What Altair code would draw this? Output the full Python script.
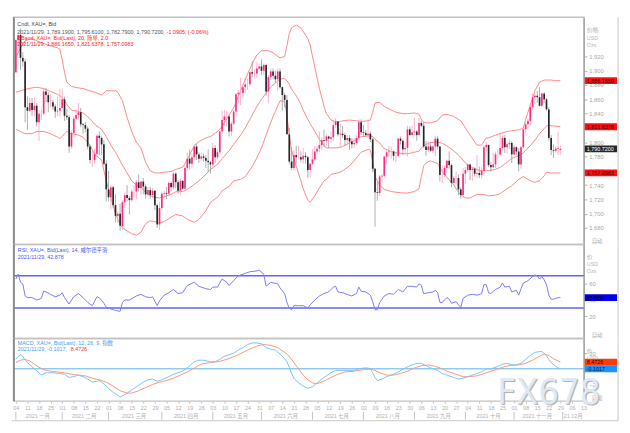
import json
import altair as alt
import pandas as pd

# ---------------- daily candles XAU= (trading-day index 0 = 2021-01-04 ... 235 = 2021-11-29)
OPEN = [
    1898,1943,1950,1918,1913,1849,1844,1855,1845,1851,1828,1840,1840,1871,1866,1856,1856,1850,1843,1844,
    1848,1860,1837,1835,1794,1813,1833,1838,1842,1825,1824,1819,1794,1775,1775,1784,1809,1806,1797,1770,
    1734,1723,1737,1712,1697,1700,1683,1716,1726,1722,1719,1731,1731,1744,1736,1745,1738,1727,1733,1726,1732,1712,1685,
    1708,1728,1729,1728,1743,1737,1756,1744,1732,1746,1735,1764,1777,1770,1779,1794,1783,1777,1780,1778,1774,1772,
    1769,1792,1779,1786,1815,1831,1836,1836,1815,1826,1843,1867,1869,1869,1877,1881,1881,1898,1896,1896,1903,
    1906,1900,1908,1871,1891,1899,1893,1888,1899,1877,1866,1859,1811,1773,1764,1782,1779,1779,1776,1781,1779,1761,
    1770,1776,1787,1791,1796,1803,1802,1808,1805,1807,1824,1829,1811,1812,1810,1803,1806,1801,1797,1799,1806,1828,
    1814,1813,1810,1812,1804,1763,1730,1729,1752,1753,1780,1786,1787,1787,1781,1781,1805,1802,1790,1792,1818,1810,
    1814,1815,1810,1827,1823,1794,1789,1794,1788,1794,1805,1794,1754,1754,1764,1774,1768,1743,1750,1750,1734,1726,
    1756,1761,1769,1761,1763,1756,1757,1754,1760,1793,1796,1768,1765,1769,1783,1783,1792,1806,1793,1797,1799,
    1783,1793,1787,1769,1793,1818,1825,1830,1849,1863,1865,1863,1851,1868,1860,1846,1806,1789,1788,1791,1789.19,
]
HIGH = [
    1944,1952,1959,1926,1917,1864,1862,1862,1863,1855,1845,1845,1875,1876,1870,1867,1859,1853,1864,1875,
    1875,1864,1846,1838,1816,1836,1845,1855,1848,1827,1828,1822,1797,1789,1791,1811,1815,1808,1803,1775,
    1760,1740,1739,1727,1703,1714,1719,1730,1740,1725,1734,1740,1747,1755,1746,1750,1741,1737,1738,1736,1733,1714,1716,
    1731,1732,1737,1745,1745,1759,1758,1747,1749,1747,1767,1785,1790,1784,1797,1798,1786,1785,1784,1782,1790,1774,
    1799,1796,1790,1816,1844,1845,1844,1838,1829,1845,1869,1873,1890,1880,1890,1889,1899,1913,1902,1912,1910,
    1916,1910,1910,1894,1903,1903,1900,1903,1903,1878,1869,1866,1820,1793,1789,1795,1795,1787,1792,1786,1781,1771,
    1790,1795,1794,1815,1807,1818,1812,1809,1815,1830,1834,1830,1826,1823,1813,1810,1810,1806,1806,1810,1832,1832,
    1824,1817,1832,1815,1806,1764,1745,1754,1755,1781,1788,1795,1794,1788,1786,1806,1808,1804,1800,1823,1822,1823,
    1834,1817,1834,1830,1828,1802,1801,1800,1796,1809,1809,1795,1768,1767,1776,1787,1770,1753,1759,1755,1737,1764,
    1765,1770,1770,1765,1765,1782,1766,1765,1796,1800,1797,1772,1785,1787,1790,1814,1810,1810,1801,1804,1801,
    1796,1794,1792,1795,1819,1829,1833,1853,1868,1869,1872,1877,1869,1870,1862,1849,1810,1797,1794,1815,1795.61,
]
LOW = [
    1897,1928,1901,1906,1828,1817,1842,1837,1836,1822,1802,1831,1838,1856,1842,1849,1845,1834,1836,1836,
    1847,1830,1831,1785,1791,1807,1831,1832,1821,1812,1814,1790,1770,1765,1770,1781,1782,1782,1767,1717,
    1717,1706,1708,1688,1687,1676,1678,1708,1717,1699,1717,1723,1720,1731,1727,1727,1721,1725,1721,1722,1705,1680,1677,
    1705,1725,1720,1725,1731,1734,1736,1728,1726,1733,1734,1760,1762,1763,1776,1775,1771,1774,1773,1764,1758,1756,
    1766,1771,1776,1783,1812,1823,1822,1808,1809,1824,1838,1854,1852,1862,1869,1873,1878,1891,1889,1890,1901,
    1894,1894,1865,1855,1887,1888,1883,1872,1875,1844,1849,1811,1769,1761,1760,1770,1776,1772,1770,1770,1750,1751,
    1768,1774,1783,1786,1789,1793,1795,1792,1799,1802,1820,1808,1794,1806,1795,1795,1789,1791,1792,1796,1803,1810,
    1808,1807,1805,1800,1758,1682,1718,1725,1744,1751,1770,1779,1777,1774,1772,1779,1797,1782,1783,1780,1809,1808,
    1810,1802,1809,1821,1792,1781,1786,1786,1785,1781,1790,1745,1743,1751,1758,1763,1737,1739,1742,1726,1721,1722,
    1741,1758,1747,1746,1752,1750,1750,1749,1755,1787,1765,1759,1764,1764,1777,1781,1789,1785,1784,1790,1771,
    1781,1782,1759,1763,1791,1813,1818,1823,1845,1853,1855,1850,1849,1855,1844,1802,1782,1778,1785,1782,1782.79,
]
CLOSE = [
    1943,1950,1918,1913,1849,1844,1855,1845,1851,1828,1840,1840,1871,1866,1856,1856,1850,1843,1844,1848,
    1860,1837,1835,1794,1813,1833,1838,1842,1825,1824,1819,1794,1775,1775,1784,1809,1806,1797,1770,1734,
    1723,1737,1712,1697,1700,1683,1716,1726,1722,1719,1731,1731,1744,1736,1745,1738,1727,1733,1726,1732,1712,1685,1708,
    1728,1729,1728,1743,1737,1756,1744,1732,1746,1735,1764,1777,1770,1779,1794,1783,1777,1780,1778,1774,1772,1769,
    1792,1779,1786,1815,1831,1836,1836,1815,1826,1843,1867,1869,1869,1877,1881,1881,1898,1896,1896,1903,1906,
    1900,1908,1871,1891,1899,1893,1888,1899,1877,1866,1859,1811,1773,1764,1782,1779,1779,1776,1781,1779,1761,1770,
    1776,1787,1791,1796,1803,1802,1808,1805,1807,1824,1829,1811,1812,1810,1803,1806,1801,1797,1799,1806,1828,1814,
    1813,1810,1812,1804,1763,1730,1729,1752,1753,1780,1786,1787,1787,1781,1781,1805,1802,1790,1792,1818,1810,1814,
    1815,1810,1827,1823,1794,1789,1794,1788,1794,1805,1794,1754,1754,1764,1774,1768,1743,1750,1750,1734,1726,1756,
    1761,1769,1761,1763,1756,1757,1754,1760,1793,1796,1768,1765,1769,1783,1783,1792,1806,1793,1797,1799,1783,
    1793,1787,1769,1793,1818,1825,1830,1849,1863,1865,1863,1851,1868,1860,1846,1806,1789,1788,1791,1791.8,1790.72,
]
assert len(OPEN) == len(HIGH) == len(LOW) == len(CLOSE) == 236, (len(OPEN), len(HIGH), len(LOW), len(CLOSE))

# ---------------- Bollinger band (20, 2): (index, upper, middle, lower)
BBAND = [
    (0,1918,1870,1818),(2,1932,1872,1815),(4,1942,1874,1812),(7,1945,1876,1812),(9,1942,1877,1815),
    (12,1938,1875,1815),(15,1935,1871,1812),(18,1932,1867,1807),(19,1930,1865,1805),(20,1915,1862,1808),
    (21,1898,1858,1812),(22,1884,1853,1815),(24,1878,1845,1812),(27,1876,1843,1810),(29,1875,1841,1807),
    (32,1872,1833,1796),(34,1870,1825,1783),(37,1866,1818,1775),(39,1872,1808,1746),(41,1872,1796,1722),
    (43,1872,1786,1700),(44,1870,1780,1692),(46,1858,1768,1680),(48,1835,1757,1676),(50,1815,1746,1672),
    (52,1800,1740,1670),(54,1792,1737,1674),(56,1772,1730,1686),(58,1760,1725,1690),(60,1757,1723,1689),
    (62,1757,1722,1687),(64,1758,1723.6,1689),(67,1759,1727,1695),(69,1762,1730.7,1699),(72,1765,1731,1697),
    (74,1776,1734,1692),(77,1795,1741,1688),(79,1801,1746,1692),(82,1806,1755,1704),(84,1808,1762,1716),
    (87,1815,1769,1723),(89,1822,1777,1732),(92,1838,1788,1738),(94,1848,1797,1746),(97,1872,1810,1748),
    (99,1888,1820,1752),(102,1910,1838,1766),(104,1922,1850,1778),(106,1928,1860,1792),(109,1928,1873.5,1819),
    (111,1925,1880,1836),(114,1918,1888.5,1858),(116,1920,1889,1857),(117,1935,1886,1837),(118,1952,1881,1810),
    (119,1960,1874,1788),(121,1964,1865,1766),(123,1960,1853,1746),(124,1955,1845,1735),(126,1945,1832,1719),
    (127,1936,1826,1716),(129,1905,1815,1725),(131,1875,1804,1736),(133,1850,1796,1746),(134,1840,1792,1748),
    (136,1831,1792,1755),(139,1828,1792.3,1757),(141,1830,1794,1760),(144,1831,1799,1767),(147,1830,1804,1778),
    (149,1829,1807.6,1786),(152,1830,1809,1790),(153,1831,1809,1789),(154,1842,1807.7,1773),(155,1855,1804,1752),
    (157,1856,1799,1740),(159,1850,1791,1734),(162,1845,1787,1731),(164,1842,1785.6,1730),(167,1840,1784,1729),
    (169,1840,1783.75,1729),(172,1841,1786,1731),(174,1839,1787.5,1735),(175,1832,1792,1752),(176,1828,1795,1767),
    (177,1827,1797,1771),(179,1827,1799.7,1774),(182,1830,1800,1770),(184,1838,1798.6,1759),(186,1839,1795,1751),
    (189,1836,1788,1740),(191,1832,1782,1730),(192,1830,1779,1727),(194,1820,1770.8,1722),(196,1810,1766,1722),
    (199,1796,1761.7,1727),(201,1796,1760,1727),(203,1806,1761,1726),(204,1806,1760.2,1725),(207,1810,1762,1726),
    (209,1812,1764.8,1728),(212,1815,1772,1735),(214,1816,1777.4,1739),(216,1817,1780,1745),(217,1817,1781,1748),
    (219,1820,1785,1752),(220,1832,1789,1750),(222,1852,1795,1746),(224,1872,1803,1744),(226,1884,1812,1746),
    (228,1887,1819,1753),(229,1887,1822.9,1758),(231,1887,1823,1757),(233,1886,1822.5,1757),
    (235,1886.165,1821.6378,1757.0983),
]

# ---------------- RSI (14, Wilder): (index, value)
RSI = [
    (0,66),(1,72),(2,62),(3,60),(4,45),(5,43),(7,43),(9,40),(11,42),(12,51),(13,50),(15,47),(17,44),(19,46),
    (20,49),(21,43),(23,35),(24,40),(25,44),(27,48),(29,43),(31,37),(33,33),(35,44),(36,43),(38,36),(39,31),
    (40,30),(42,28),(43,27),(45,26),(46,37),(47,40),(49,40),(52,45),(54,47),(56,44),(58,43),(59,44),(61,33),
    (62,39),(64,46),(66,49),(68,53),(70,48),(72,49),(74,58),(77,62),(79,57),(82,54),(84,53),(85,56),(87,56),
    (89,66),(91,62),(92,58),(94,64),(96,70),(99,73),(101,75),(104,76),(105,77),(107,72),(108,57),(110,62),
    (113,60),(114,55),(116,48),(117,37),(118,30),(119,28),(120,33),(122,33),(124,33),(126,30),(127,34),
    (129,40),(131,45),(133,48),(135,50),(137,56),(138,57),(139,50),(141,49),(143,47),(145,45),(147,48),
    (148,56),(149,51),(151,50),(153,46),(154,38),(155,28),(156,28),(157,37),(159,45),(161,48),(163,47),
    (165,53),(167,50),(169,57),(171,57),(173,56),(174,60),(175,58),(176,48),(178,49),(180,50),(181,52),
    (182,49),(183,37),(184,37),(186,43),(187,41),(188,36),(190,38),(191,34),(192,31),(193,42),(195,46),
    (197,47),(199,46),(201,48),(202,59),(203,59),(204,49),(205,48),(207,53),(209,56),(210,61),(211,56),
    (213,57),(214,50),(216,52),(217,46),(218,54),(219,61),(221,64),(223,69),(224,71),(225,70),(226,66),
    (227,69),(228,65),(229,59),(230,46),(231,41),(232,41),(233,42),(234,43),(235,42.878),
]
RSI_LEVELS = [30, 70]

# ---------------- MACD (12, 26, 9): (index, value)
MACD = [
    (0,12),(1,16),(2,18),(3,16),(4,11),(6,5),(8,0),(10,-5),(11,-8),(13,-5),(16,-5),(19,-6),(21,-7),(23,-11),
    (25,-10),(27,-8),(29,-10),(31,-13),(33,-17),(35,-16),(36,-15),(38,-19),(40,-25),(42,-30),(45,-36),
    (47,-33),(50,-27),(53,-21),(55,-17),(57,-14),(59,-13),(61,-16),(63,-14),(66,-10),(68,-7),(71,-4),
    (73,-1),(75,4),(77,9),(79,11),(81,11),(84,9),(86,9),(88,12),(90,16),(92,18),(94,20),(96,24),(98,27),
    (100,31),(102,33),(104,33),(106,32),(108,27),(110,25),(112,24),(114,19),(116,13),(117,9),(118,2),
    (119,-6),(120,-12),(122,-18),(124,-22),(126,-25),(128,-23),(130,-18),(132,-13),(134,-9),(136,-5),
    (138,-2),(140,-2),(143,-2),(146,-2),(148,0),(150,1),(152,1),(153,0),(154,-5),(155,-11),(156,-15),
    (158,-13),(160,-10),(163,-7),(165,-4),(168,1),(170,4),(173,7),(175,7),(177,4),(180,0),(182,-2),
    (184,-6),(186,-8),(189,-11),(191,-13),(193,-12),(195,-10),(198,-7),(201,-4),(203,0),(205,0),(208,3),
    (210,6),(212,7),(214,5),(216,5),(218,7),(220,12),(222,17),(224,21),(226,22),(227,22),(229,17),(230,12),
    (231,8),(233,3),(235,-0.1017),
]
SIGNAL = [
    (0,8),(2,11),(4,12),(6,10),(8,6),(10,2),(12,-1),(15,-3),(18,-4),(21,-5),(24,-7),(27,-8),(30,-9),
    (33,-12),(36,-14),(39,-17),(42,-22),(45,-28),(48,-31),(50,-31),(53,-28),(56,-24),(59,-20),(62,-17),
    (65,-15),(68,-12),(71,-8),(74,-4),(77,1),(80,6),(84,8),(88,9.5),(92,13),(96,18),(100,24),(104,29),
    (107,31),(110,30),(113,27),(116,21),(118,16),(120,8),(122,0),(124,-8),(126,-14),(128,-18),(130,-19),
    (132,-17),(134,-14),(136,-11),(139,-7),(142,-4),(146,-3),(150,-1),(153,0),(155,-2),(157,-5),(160,-8),
    (163,-8),(166,-6),(169,-3),(172,1),(175,4),(178,5),(181,3),(184,0),(187,-4),(190,-7),(193,-10),
    (196,-10),(199,-9),(202,-6),(205,-3),(208,0),(211,3),(214,4.5),(217,5),(220,7),(223,11),(226,16),
    (228,18.8),(230,17),(232,13),(235,8.4726),
]

# ---------------- axis labels
WEEK_DAYS = ["04","11","18","25","01","08","15","22","01","08","15","22","29","05","12","19","26",
             "03","10","17","24","31","07","14","21","28","05","12","19","26","02","09","16","23","30",
             "06","13","20","27","04","11","18","25","01","08","15","22","29","06","13"]
MONTH_NAMES = ["2021 一月","2021 二月","2021 三月","2021 四月","2021 五月","2021 六月","2021 七月",
               "2021 八月","2021 九月","2021 十月","2021 十一月","21 12月"]
MONTH_START = [0,20,40,63,85,106,128,150,172,194,215,236,246]
PRICE_TICKS = [1680,1700,1720,1740,1760,1780,1800,1820,1840,1860,1880,1900,1920]

# ---------------- layout constants
W = 582
H1, H2, H3 = 232, 96, 64
FONT = "Liberation Sans, Noto Sans CJK SC"
XS = alt.Scale(domain=[-0.85, 245.1], nice=False, zero=False)
YS1 = alt.Scale(domain=[1657, 1974.8], nice=False, zero=False)
YS2 = alt.Scale(domain=[-7.6, 108.8], nice=False, zero=False)
YS3 = alt.Scale(domain=[-41.25, 38.75], nice=False, zero=False)

AX_STYLE = dict(orient="right", title=None, tickSize=3, labelPadding=2, labelFontSize=6,
                labelColor="#a8a8a8", tickColor="#b0b0b0", domainColor="#9a9a9a", grid=False,
                labelFont=FONT)
YA1 = alt.Axis(values=PRICE_TICKS, format=",d", **AX_STYLE)
YA2 = alt.Axis(values=[20, 40, 60], format="d", **AX_STYLE)
YA3 = alt.Axis(values=[-20, 0, 20], format="d", **AX_STYLE)
XA3 = alt.Axis(values=[5 * k for k in range(len(WEEK_DAYS))],
               labelExpr=json.dumps(WEEK_DAYS, ensure_ascii=False) + "[round(datum.value/5)]",
               title=None, tickSize=2, labelPadding=3, labelFontSize=5.5, labelColor="#b0b0b0",
               tickColor="#c0c0c0", domain=False, grid=False, labelOverlap=False, labelFlush=False,
               labelBound=False, labelFont=FONT)


def one():
    return alt.Chart(pd.DataFrame({"k": [0]}))


def txt(s, x, y, color, size=5.5, align="left", baseline="middle", font=FONT, **kw):
    return alt.Chart(pd.DataFrame({"t": [s]})).mark_text(
        align=align, baseline=baseline, fontSize=size, color=color, font=font, **kw
    ).encode(x=alt.value(x), y=alt.value(y), text="t:N")


def frame(h, extra=0):
    left = one().mark_rule(color="#8a8a8a", strokeWidth=2).encode(
        x=alt.value(0), y=alt.value(0), y2=alt.value(h))
    right = one().mark_rule(color="#c8c8c8", strokeWidth=1).encode(
        x=alt.value(617), y=alt.value(0), y2=alt.value(h + extra))
    return [left, right]


def label_boxes(df, ys, ya, half):
    base = alt.Chart(df)
    rect = base.transform_calculate(y1=f"datum.v - {half}", y2=f"datum.v + {half}").mark_rect().encode(
        x=alt.value(583), x2=alt.value(616),
        y=alt.Y("y1:Q", scale=ys, axis=ya), y2="y2:Q",
        color=alt.Color("fill:N", scale=None))
    lab = base.mark_text(align="left", baseline="middle", fontSize=5.5, font=FONT).encode(
        x=alt.value(585), y=alt.Y("v:Q", scale=ys, axis=ya), text="txt:N",
        color=alt.Color("tcol:N", scale=None))
    return [rect, lab]


def auto_lbl(h):
    return txt("自动", 590, h - 3, "#a8a8a8", size=5.5)


# ---------------- main price panel
cdf = pd.DataFrame({"i": range(len(CLOSE)), "o": OPEN, "h": HIGH, "l": LOW, "c": CLOSE})
bb = pd.DataFrame(BBAND, columns=["i", "up", "mid", "lo"])
UP_BODY, UP_WICK, DN_BODY, DN_WICK = "#ff2a7f", "#ff9cc2", "#262626", "#9a9a9a"
BB_COL = "#ff7a7a"

x1 = alt.X("i:Q", scale=XS, axis=None)
bb_layers = [
    alt.Chart(bb).mark_line(color=BB_COL, strokeWidth=0.9).encode(
        x=x1, y=alt.Y(f"{f}:Q", scale=YS1, axis=YA1))
    for f in ["up", "mid", "lo"]
]
wick = alt.Chart(cdf).mark_rule(strokeWidth=0.8).encode(
    x=x1, y=alt.Y("l:Q", scale=YS1, axis=YA1), y2="h:Q",
    color=alt.condition("datum.c >= datum.o", alt.value(UP_WICK), alt.value(DN_WICK)))
body = alt.Chart(cdf).mark_rule(strokeWidth=1.7).encode(
    x=x1, y=alt.Y("o:Q", scale=YS1, axis=YA1), y2="c:Q",
    color=alt.condition("datum.c >= datum.o", alt.value(UP_BODY), alt.value(DN_BODY)))

last = cdf.iloc[-1]
bb_last = bb.iloc[-1]
box1 = pd.DataFrame({
    "v": [bb_last["up"], bb_last["mid"], bb_last["lo"], last["c"]],
    "txt": [f"{bb_last['up']:,.4f}", f"{bb_last['mid']:,.4f}", f"{bb_last['lo']:,.4f}", f"{last['c']:,.4f}"],
    "fill": ["#ff1010", "#ff1010", "#ff1010", "#262626"],
    "tcol": ["#3a0000", "#3a0000", "#3a0000", "#ffffff"],
})

main = alt.layer(
    *bb_layers, wick, body,
    txt("Cndl, XAU=, Bid", 3.5, 7.3, "#444444"),
    txt("2021/11/29, 1,789.1900, 1,795.6100, 1,782.7900, 1,790.7200,", 3.5, 14.7, "#555555"),
    txt("-1.0905, (-0.06%)", 156, 14.7, "#ff2020"),
    txt("BBand, XAU=, Bid(Last), 20, 简单, 2.0", 3.5, 21.3, "#ff2020"),
    txt("2021/11/29, 1,886.1650, 1,821.6378, 1,757.0983", 3.5, 27.6, "#ff2020"),
    txt("价格", 585, 13, "#b0b0b0", size=6),
    txt("USD", 585, 21, "#b8b8b8", size=5.5),
    txt("Ozs", 585, 28, "#b8b8b8", size=5.5),
    auto_lbl(H1),
    *label_boxes(box1, YS1, YA1, 4.8),
    *frame(H1),
).properties(width=W, height=H1)

# ---------------- RSI panel
rdf = pd.DataFrame(RSI, columns=["i", "v"])
lvl = pd.DataFrame({"v": RSI_LEVELS})
rsi_line = alt.Chart(rdf).mark_line(color="#7a7aff", strokeWidth=1).encode(
    x=x1, y=alt.Y("v:Q", scale=YS2, axis=YA2))
rsi_lvls = alt.Chart(lvl).mark_rule(color="#6363f2", strokeWidth=1.5).encode(
    y=alt.Y("v:Q", scale=YS2, axis=YA2))
box2 = pd.DataFrame({"v": [rdf["v"].iloc[-1]], "txt": [f"{rdf['v'].iloc[-1]:.3f}"],
                     "fill": ["#0000ee"], "tcol": ["#000022"]})
rsi = alt.layer(
    rsi_lvls, rsi_line,
    txt("RSI, XAU=, Bid(Last), 14, 威尔德平滑", 4, 6, "#4a55ff"),
    txt("2021/11/29, 42.878", 4, 12.5, "#4a55ff"),
    txt("价", 585, 13, "#b0b0b0", size=6),
    txt("USD", 585, 20, "#b8b8b8", size=5.5),
    txt("Ozs", 585, 27, "#b8b8b8", size=5.5),
    auto_lbl(H2),
    *label_boxes(box2, YS2, YA2, 4.2),
    *frame(H2),
).properties(width=W, height=H2)

# ---------------- MACD panel
mdf = pd.DataFrame(MACD, columns=["i", "v"])
sdf = pd.DataFrame(SIGNAL, columns=["i", "v"])
x3 = alt.X("i:Q", scale=XS, axis=XA3)
zero = alt.Chart(pd.DataFrame({"v": [0]})).mark_rule(color="#5ab0ee", strokeWidth=1).encode(
    y=alt.Y("v:Q", scale=YS3, axis=YA3))
sig_line = alt.Chart(sdf).mark_line(color="#ff9478", strokeWidth=1).encode(
    x=x3, y=alt.Y("v:Q", scale=YS3, axis=YA3))
macd_line = alt.Chart(mdf).mark_line(color="#78c2ff", strokeWidth=1).encode(
    x=x3, y=alt.Y("v:Q", scale=YS3, axis=YA3))
box3 = pd.DataFrame({"v": [sdf["v"].iloc[-1], mdf["v"].iloc[-1]],
                     "txt": [f"{sdf['v'].iloc[-1]:.4f}", f"{mdf['v'].iloc[-1]:.4f}"],
                     "fill": ["#ff3c00", "#1e90ff"], "tcol": ["#330000", "#001a33"]})

months = pd.DataFrame({
    "name": MONTH_NAMES,
    "s": MONTH_START[:-1],
    "e": MONTH_START[1:],
})
months_c = months.assign(c=lambda d: (d["s"] + d["e"]) / 2 - 0.5)
sep = alt.Chart(months).mark_rule(color="#c4c4c4", strokeWidth=1).encode(
    x=alt.X("s:Q", scale=XS, axis=XA3), y=alt.value(H3 + 11), y2=alt.value(H3 + 19))
mlab = alt.Chart(months_c).mark_text(fontSize=5.5, color="#b0b0b0", font=FONT, baseline="middle").encode(
    x=alt.X("c:Q", scale=XS, axis=XA3), y=alt.value(H3 + 15), text="name:N")
bottom = one().mark_rule(color="#c8c8c8", strokeWidth=1).encode(
    x=alt.value(-2), x2=alt.value(617), y=alt.value(H3 + 20))

wm_font = "Liberation Sans Narrow, DejaVu Sans Condensed, Liberation Sans"
macd = alt.layer(
    zero, sig_line, macd_line,
    txt("MACD, XAU=, Bid(Last), 12, 26, 9, 指数", 4, 4.5, "#3da0f5"),
    txt("2021/11/29, -0.1017,", 4, 11, "#3da0f5"),
    txt("8.4726", 58, 11, "#ff3030"),
    txt("价", 585, 13, "#b0b0b0", size=6),
    txt("USD", 585, 20, "#b8b8b8", size=5.5),
    auto_lbl(H3),
    *label_boxes(box3, YS3, YA3, 4.4),
    sep, mlab, bottom,
    txt("FX678", 600.3, 68.3, "#b9b2aa", size=37, align="right", baseline="alphabetic", font=wm_font),
    txt("FX678", 599, 67, "#dde9f6", size=37, align="right", baseline="alphabetic", font=wm_font),
    *frame(H3, 20),
).properties(width=W, height=H3)

chart = alt.vconcat(main, rsi, macd, spacing=0, bounds="flush").properties(
    padding={"left": 2, "top": 3, "right": 2, "bottom": 2}
).configure_view(stroke="#c2c2c2", strokeWidth=1.5).configure_concat(spacing=0)

chart.save("out.html", embed_options={"renderer": "svg", "actions": False})
